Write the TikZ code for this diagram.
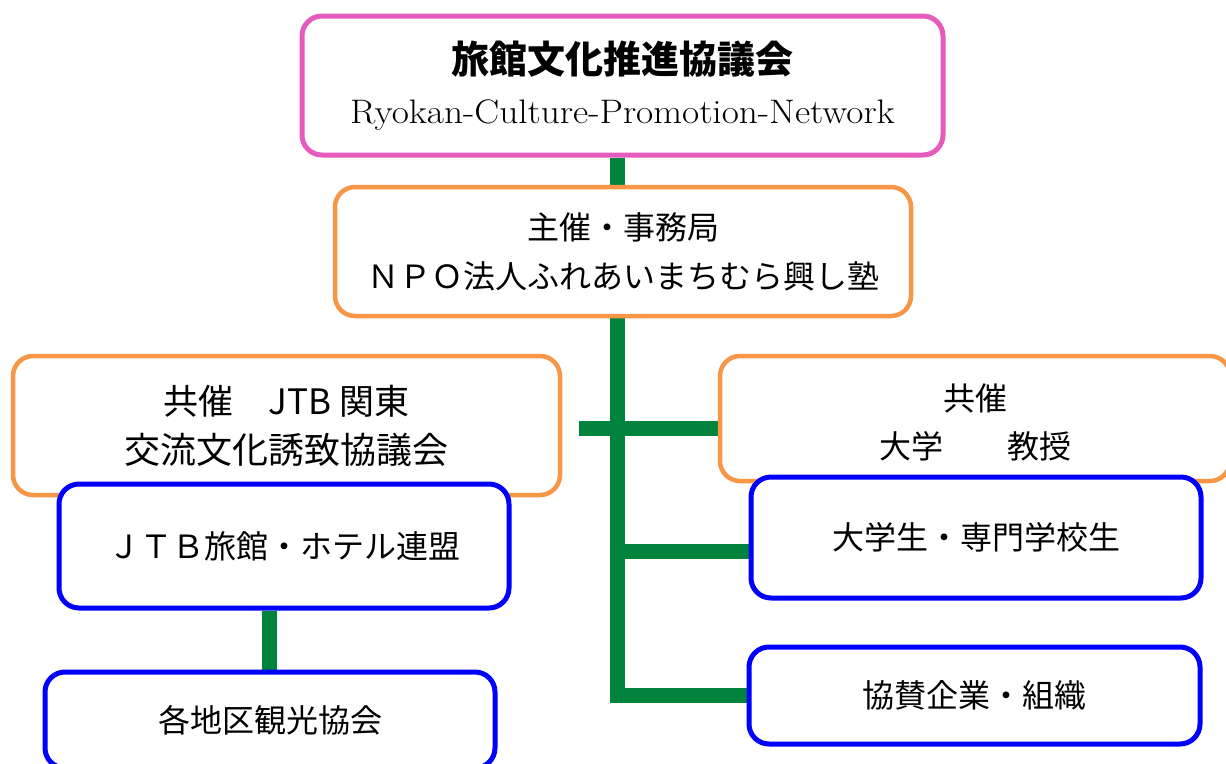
\documentclass[tikz,border=0pt]{standalone}
\usepackage{fontspec}
\newfontfamily\cjk{Noto Sans CJK JP}
\usetikzlibrary{backgrounds}
\definecolor{cpink}{RGB}{230,92,190}
\definecolor{corange}{RGB}{247,150,70}
\definecolor{cblue}{RGB}{0,0,255}
\definecolor{cgreen}{RGB}{0,132,61}
\tikzset{
  box/.style={draw, fill=white, rounded corners=20pt, line width=4.5pt, inner sep=0pt,
    align=center, font=\cjk\fontsize{32}{49}\selectfont},
  pinkbox/.style={box, draw=cpink, line width=5pt},
  orangebox/.style={box, draw=corange},
  bluebox/.style={box, draw=cblue, line width=5pt},
  conn/.style={draw=cgreen, line width=15pt}
}
\begin{document}
\begin{tikzpicture}[x=1pt,y=-1pt]
\useasboundingbox (0,0) rectangle (1226,763);
\begin{scope}[on background layer]
  \fill[white] (0,0) rectangle (1226,763);
\end{scope}

\node[pinkbox, minimum width=641pt, minimum height=139pt] (top) at (622.5,85.5)
  {{\bfseries\fontsize{38}{50}\selectfont 旅館文化推進協議会}\\[1pt]
   {\rmfamily\fontsize{34}{50}\selectfont\scalebox{1.097}[1]{Ryokan-Culture-Promotion-Network}}};
\node[orangebox, minimum width=576pt, minimum height=129pt] (org) at (623,251.5)
  {主催・事務局\\ＮＰＯ法人ふれあいまちむら興し塾};
\node[orangebox, minimum width=547pt, minimum height=139pt] (lorg) at (286.5,425.5)
  {{\fontsize{35}{49}\selectfont 共催　JTB 関東}\\{\fontsize{36}{49}\selectfont 交流文化誘致協議会}};
\node[orangebox, minimum width=510pt, minimum height=125pt,
  label={[align=center, font=\cjk\fontsize{32}{48}\selectfont, yshift=-4pt]center:共催\\大学　　教授}]
  (rorg) at (975,418.5) {};
\node[bluebox, minimum width=450pt, minimum height=124pt] (jtb) at (284,546)
  {ＪＴＢ旅館・ホテル連盟};
\node[bluebox, minimum width=450pt, minimum height=96pt] (kakuchi) at (270,720)
  {各地区観光協会};
\node[bluebox, minimum width=450pt, minimum height=121pt] (gakusei) at (976,537.5)
  {大学生・専門学校生};
\node[bluebox, minimum width=451pt, minimum height=97pt] (kyosan) at (974.5,695.5)
  {協賛企業・組織};

\coordinate (trunk) at (617,318);
\coordinate (lstub) at (579,428);
\coordinate (mid) at (617,551);
\coordinate (jx) at (269,0);

\begin{scope}[on background layer]
  \draw[conn] (top.south -| trunk) -- (org.north -| trunk);
  \draw[conn] (org.south -| trunk) |- (kyosan.west);
  \draw[conn] (lstub) -- (rorg.west |- lstub);
  \draw[conn] (mid) -- (gakusei.west |- mid);
  \draw[conn] (jtb.south -| jx) -- (kakuchi.north -| jx);
\end{scope}
\end{tikzpicture}
\end{document}
